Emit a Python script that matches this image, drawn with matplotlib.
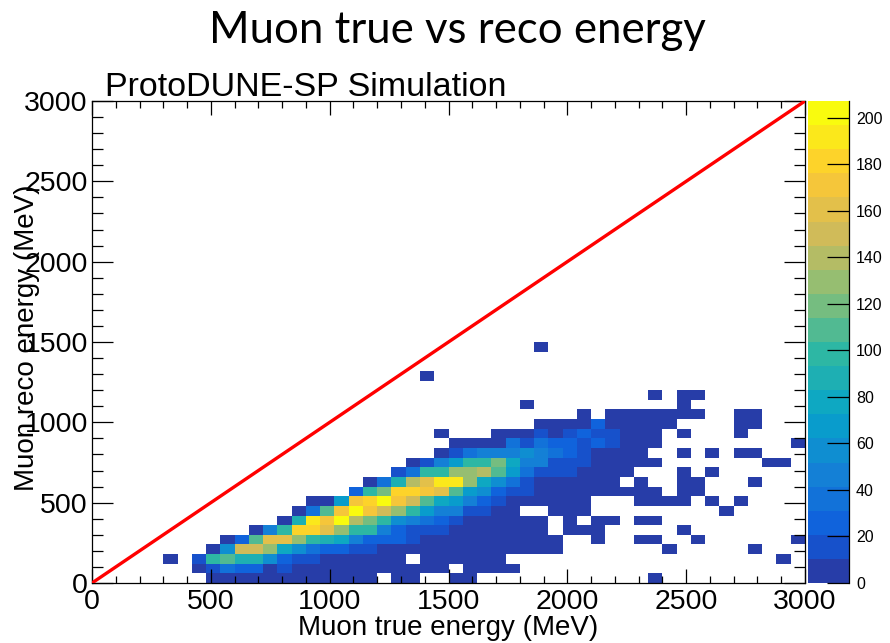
import numpy as np
import matplotlib
matplotlib.use("Agg")
import matplotlib.pyplot as plt
from matplotlib.colors import LinearSegmentedColormap, ListedColormap, BoundaryNorm
from matplotlib.ticker import MultipleLocator

# ---------------- data ----------------
title_text = "Muon true vs reco energy"
tag_text = "ProtoDUNE-SP Simulation"
x_title = "Muon true energy (MeV)"
y_title = "Muon reco energy (MeV)"

x_edges = np.arange(0, 3001, 60)      # true energy bins (MeV)
y_edges = np.arange(0, 3001, 60)      # reco energy bins (MeV)
z_max = 207.3                          # top of colour scale
n_levels = 20
level_codes = "0123456789abcdefghij"   # colour level of each bin ('.' = empty)

# one string per reco-energy row, bottom (0-60 MeV) to top; one char per true-energy bin
rows_levels = [
    "........000000000000.00..00............0..........",
    ".......013220100000000000.0000....................",
    ".....0.19a885211000000.000000...................0.",
    "........05eec75322110000000000000.......0.....0...",
    ".........02affc987422210000000000..0..00..0......0",
    "...........049hhfc99421110000000.000.....0........",
    ".............08igjdb954321000000.0.00.00..........",
    "..............03agjgec96441100..000.........0.....",
    "...............006ghjgea76421000000...0000.0.0....",
    "..................29bhhgfa65211000000000.00.......",
    "...................038dfiic7531000000.0..00...0...",
    ".....................1399ccda631110000...0.0......",
    "......................014699b74411100000.......00.",
    "........................013444543210000..0.0.00...",
    ".........................000031322121000.........0",
    "........................0...000101211000.0...0....",
    "...............................0000200000....00...",
    "..................................0.0000000..00...",
    "..............................0..........0........",
    ".......................................0.00.......",
    "..................................................",
    ".......................0..........................",
    "..................................................",
    "..................................................",
    "...............................0..................",
]

# --------------- build histogram ---------------
nx = len(x_edges) - 1
ny = len(y_edges) - 1
step = z_max / n_levels
H = np.full((ny, nx), np.nan)
for j, row in enumerate(rows_levels):
    assert len(row) == nx, (j, len(row))
    for i, ch in enumerate(row):
        if ch != ".":
            H[j, i] = (level_codes.index(ch) + 0.5) * step

# ROOT kBird palette
stops = [0.0, 0.125, 0.25, 0.375, 0.5, 0.625, 0.75, 0.875, 1.0]
red = [0.2082, 0.0592, 0.0780, 0.0232, 0.1802, 0.5301, 0.8186, 0.9956, 0.9764]
green = [0.1664, 0.3599, 0.5041, 0.6419, 0.7178, 0.7492, 0.7328, 0.7862, 0.9832]
blue = [0.5293, 0.8684, 0.8385, 0.7914, 0.6425, 0.4662, 0.3499, 0.1968, 0.0539]
bird = LinearSegmentedColormap.from_list(
    "bird", [(s, (r, g, b)) for s, r, g, b in zip(stops, red, green, blue)], N=256)
cmap = ListedColormap([bird(min((k + 0.99) / n_levels, 1.0)) for k in range(n_levels)])
bounds = np.linspace(0, z_max, n_levels + 1)
norm = BoundaryNorm(bounds, cmap.N)

# --------------- figure ---------------
W, Hpx = 890, 643
fig = plt.figure(figsize=(W / 100, Hpx / 100), dpi=100)
fig.patch.set_facecolor("white")

def fx(px):
    return px / W

def fy(py):
    return 1 - py / Hpx

ax_l, ax_r, ax_t, ax_b = 92, 805, 101, 583
ax = fig.add_axes([fx(ax_l), fy(ax_b), fx(ax_r - ax_l), (ax_b - ax_t) / Hpx])
mesh = ax.pcolormesh(x_edges, y_edges, np.ma.masked_invalid(H), cmap=cmap, norm=norm,
                     edgecolors="none", antialiased=False)
ax.plot([0, 3000], [0, 3000], color="#ff0000", lw=2.4, solid_capstyle="butt", zorder=3)
ax.set_xlim(0, 3000)
ax.set_ylim(0, 3000)

tick_font = "Liberation Sans"
ax.xaxis.set_major_locator(MultipleLocator(500))
ax.xaxis.set_minor_locator(MultipleLocator(100))
ax.yaxis.set_major_locator(MultipleLocator(500))
ax.yaxis.set_minor_locator(MultipleLocator(100))
ax.tick_params(axis="x", which="major", direction="in", top=True, length=10.4, width=0.9,
               labelsize=20.5, pad=4)
ax.tick_params(axis="x", which="minor", direction="in", top=True, length=5.2, width=0.9)
ax.tick_params(axis="y", which="major", direction="in", right=True, length=15.4, width=0.9,
               labelsize=20.5, pad=3)
ax.tick_params(axis="y", which="minor", direction="in", right=True, length=7.7, width=0.9)
for lab in ax.get_xticklabels() + ax.get_yticklabels():
    lab.set_fontfamily(tick_font)
for sp in ax.spines.values():
    sp.set_linewidth(0.9)

# colour bar
cax = fig.add_axes([fx(808), fy(ax_b), fx(849 - 808), (ax_b - ax_t) / Hpx])
cb = fig.colorbar(mesh, cax=cax, ticks=np.arange(0, 201, 20))
cb.outline.set_visible(False)
cax.plot([1, 1], [0, 1], transform=cax.transAxes, color="black", lw=0.9, clip_on=False)
cax.tick_params(direction="in", length=15.8, width=0.9, labelsize=11.5, pad=5,
                left=False, right=True)
cax.minorticks_off()
for lab in cax.get_yticklabels():
    lab.set_fontfamily(tick_font)

# texts
fig.text(fx(457), fy(43), title_text, ha="center", va="baseline", fontsize=31.5,
         fontfamily="Lato")
fig.text(fx(105), fy(96), tag_text, ha="left", va="baseline", fontsize=24.5,
         fontfamily=tick_font)
fig.text(fx(448), fy(628), x_title, ha="center", va="center", fontsize=20,
         fontfamily=tick_font)
fig.text(fx(27), fy(338), y_title, ha="center", va="center", rotation=90, fontsize=20,
         fontfamily=tick_font)

fig.savefig("out.png", dpi=100)
